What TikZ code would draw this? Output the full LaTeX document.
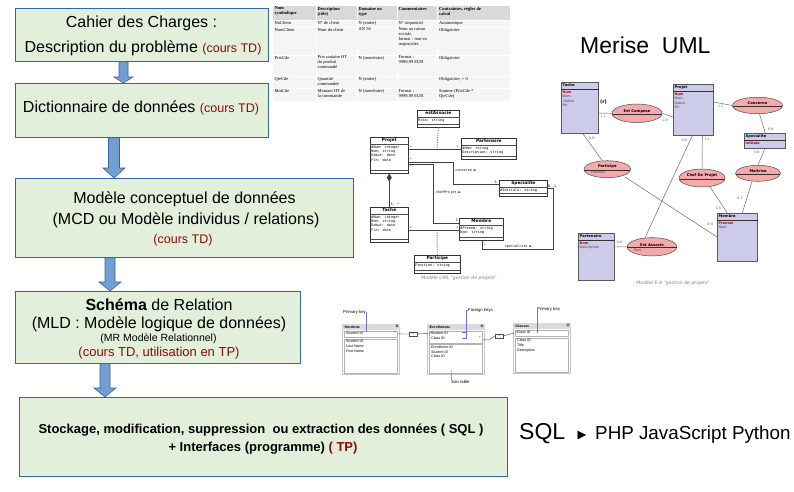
\documentclass[tikz,border=0pt]{standalone}
\usepackage{fontspec}
\setmainfont{Liberation Sans}
\newfontfamily\serifx{Liberation Serif}
\newfontfamily\monox{DejaVu Sans Mono}
\newfontfamily\djv{DejaVu Sans}
\usetikzlibrary{calc,shapes.geometric,arrows.meta}

\definecolor{boxfill}{RGB}{226,239,218}
\definecolor{boxline}{RGB}{52,101,164}
\definecolor{arrfill}{RGB}{114,159,207}
\definecolor{tdred}{RGB}{140,10,10}
\definecolor{keyred}{RGB}{180,0,0}
\definecolor{entfill}{RGB}{204,204,234}
\definecolor{relfill}{RGB}{244,170,170}
\definecolor{keyblue}{RGB}{110,110,235}

\newcommand{\tdnote}[1]{{\color{tdred}\fontsize{12.5}{14}\selectfont #1}}

\newcommand{\erent}[7]{%
  \node[erentity, minimum width=#4pt, minimum height=#5pt] (#1) at (#2,#3) {};
  \node[ertitle] (#1t) at ($(#1.north west)+(1.5,1.3)$) {#6};
  \draw[black!80, line width=0.9pt] ($(#1.north west)+(0,7.6)$) -- ($(#1.north east)+(0,7.6)$);
  \node[erattr] (#1a) at ($(#1.north west)+(1.5,8.6)$) {#7};
}
\newcommand{\errel}[7]{%
  \node[errel, minimum width=#4pt, minimum height=#5pt] (#1) at (#2,#3) {};
  \draw[black!80, line width=0.7pt] ($(#1.west)+(0.4,1)$) -- ($(#1.east)+(-0.4,1)$);
  \node[ertitle, anchor=south] (#1t) at ($(#1.center)+(0,-0.3)$) {#6};
  \node[erattr] (#1a) at ($(#1.west)+(7,2)$) {#7};
}
\newcommand{\umlcls}[7]{%
  \node[umlbox, minimum width=#4pt, minimum height=#5pt] (#1) at (#2,#3) {};
  \node[umltitle] (#1t) at ($(#1.north)+(0,1.2)$) {#6};
  \draw[umlsep] ($(#1.north west)+(0,7.5)$) -- ($(#1.north east)+(0,7.5)$);
  \node[umlattr] (#1a) at ($(#1.north west)+(1.2,8.5)$) {#7};
  \draw[umlsep] ($(#1.south west)+(0,-3.5)$) -- ($(#1.south east)+(0,-3.5)$);
}
\newcommand{\dcell}[4]{\node[dtxt] (#1) at (#2,#3) {#4};}

\begin{document}
\begin{tikzpicture}[x=1pt,y=-1pt,
  stepbox/.style={draw=boxline, fill=boxfill, line width=0.9pt, inner sep=0pt, anchor=north west},
  bigtxt/.style={anchor=base, inner sep=0pt, font=\fontsize{16}{19}\selectfont},
  arrstyle/.style={fill=arrfill, draw=boxline, line width=0.6pt},
  blockarrow/.style n args={3}{to path={let \p1=(\tikztostart), \p2=(\tikztotarget) in
     (\x1-#1pt,\y1) -- (\x1+#1pt,\y1) -- (\x1+#1pt,\y2+#3pt) -- (\x1+#2pt,\y2+#3pt) -- (\x1,\y2)
     -- (\x1-#2pt,\y2+#3pt) -- (\x1-#1pt,\y2+#3pt) -- cycle}},
  erentity/.style={draw=gray!70!black, fill=entfill, line width=0.6pt, inner sep=0pt, anchor=north west},
  ertitle/.style={font=\djv\bfseries\fontsize{3.7}{4.2}\selectfont, inner sep=0pt, anchor=north west},
  erattr/.style={font=\djv\fontsize{3.4}{4.4}\selectfont, text=black!75, inner sep=0pt, anchor=north west, align=left},
  errel/.style={ellipse, draw=gray!60!black, fill=relfill, line width=0.5pt, inner sep=0pt},
  erline/.style={draw=gray!75!black, line width=0.45pt},
  card/.style={font=\djv\fontsize{3.3}{4}\selectfont, text=black!60, inner sep=0pt},
  umlbox/.style={draw=black!80, fill=white, line width=0.6pt, inner sep=0pt, anchor=north west},
  umltitle/.style={font=\djv\bfseries\fontsize{4.3}{5}\selectfont, inner sep=0pt, anchor=north},
  umlattr/.style={font=\monox\fontsize{3.5}{4.3}\selectfont, inner sep=0pt, anchor=north west, align=left},
  umlsep/.style={draw=black!70, line width=0.4pt},
  umlline/.style={draw=black!75, line width=0.6pt},
  umldash/.style={draw=black!55, line width=0.9pt, dash pattern=on 1.2pt off 1.2pt},
  umllbl/.style={font=\monox\fontsize{3.4}{4}\selectfont, inner sep=0pt},
  rtframe/.style={draw=gray!45, line width=1.3pt, fill=white, inner sep=0pt, anchor=north west},
  rtbox/.style={draw=gray!60, line width=0.4pt, fill=white, inner sep=0pt, anchor=north west},
  rttxt/.style={font=\fontsize{3.6}{4.7}\selectfont, inner sep=0pt, anchor=north west, align=left},
  rtnote/.style={font=\fontsize{4.3}{5}\selectfont, inner sep=0pt},
  rtline/.style={draw=black!70, line width=0.45pt},
  keyline/.style={draw=keyblue, line width=0.5pt},
  dtxt/.style={font=\serifx\fontsize{4.5}{4.9}\selectfont, inner sep=0pt, anchor=north west, align=left},
  capt/.style={font=\djv\itshape\fontsize{4.6}{5}\selectfont, text=black!50, inner sep=0pt}
]
\useasboundingbox (0,0) rectangle (794,491);
\fill[white] (0,0) rectangle (794,491);

% ---------------- left flow boxes ----------------
\node[stepbox, minimum width=253pt, minimum height=53pt] (b1) at (15,8) {};
\node[stepbox, minimum width=253pt, minimum height=54pt] (b2) at (15,83) {};
\node[stepbox, minimum width=338pt, minimum height=79pt] (b3) at (15,178) {};
\node[stepbox, minimum width=285pt, minimum height=72pt] (b4) at (15,291) {};
\node[stepbox, minimum width=488pt, minimum height=79pt] (b5) at (19,397) {};

\node[bigtxt] (t1a) at (141.5,27.3) {Cahier des Charges :};
\node[bigtxt] (t1b) at (143,52.5) {Description du problème \tdnote{(cours TD)}};
\node[bigtxt] (t2) at (141,112.3) {Dictionnaire de données \tdnote{(cours TD)}};
\node[bigtxt] (t3a) at (184.5,203.3) {Modèle conceptuel de données};
\node[bigtxt] (t3b) at (186,224.3) {(MCD ou Modèle individus / relations)};
\node[bigtxt] (t3c) at (183,243.3) {\tdnote{(cours TD)}};
\node[bigtxt] (t4a) at (159,310) {\textbf{Schéma} de Relation};
\node[bigtxt] (t4b) at (159,328.3) {(MLD : Modèle logique de données)};
\node[bigtxt, font=\fontsize{10.5}{12}\selectfont] (t4c) at (158.5,341) {(MR Modèle Relationnel)};
\node[bigtxt, font=\fontsize{13}{15}\selectfont, text=tdred] (t4d) at (159,356) {(cours TD, utilisation en TP)};
\node[bigtxt, font=\bfseries\fontsize{13}{15}\selectfont] (t5a) at (261,433) {Stockage, modification, suppression\ \ ou extraction des données ( SQL )};
\node[bigtxt, font=\bfseries\fontsize{13}{15}\selectfont] (t5b) at (263,451) {+ Interfaces (programme) {\color{tdred}( TP)}};

% block arrows
\coordinate (a1s) at ($(b1.south west)+(108.5,0)$);
\coordinate (a1e) at ($(b2.north west)+(108.5,0)$);
\coordinate (a2s) at ($(b2.south west)+(99,0)$);
\coordinate (a2e) at ($(b3.north west)+(99,0)$);
\coordinate (a3s) at ($(b3.south west)+(95,0)$);
\coordinate (a3e) at ($(b4.north west)+(95,0)$);
\coordinate (a4s) at ($(b4.south west)+(90,0)$);
\coordinate (a4e) at ($(b5.north west)+(86,0)$);
\draw[arrstyle] (a1s) to[blockarrow={4.5}{9.5}{6}] (a1e);
\draw[arrstyle] (a2s) to[blockarrow={5.5}{11}{10}] (a2e);
\draw[arrstyle] (a3s) to[blockarrow={5}{11}{9}] (a3e);
\draw[arrstyle] (a4s) to[blockarrow={5}{11}{9}] (a4e);

% right texts
\node[anchor=base west, inner sep=0pt, font=\fontsize{23}{26}\selectfont] (merise) at (580,53) {Merise\ \ UML};
\node[anchor=base west, inner sep=0pt, font=\fontsize{23}{26}\selectfont] (sql) at (519,439) {SQL};
\node[anchor=base west, inner sep=0pt, font=\djv\fontsize{11.5}{12}\selectfont] (tri) at (577.5,438) {▶};
\node[anchor=base west, inner sep=0pt, font=\fontsize{18.8}{20}\selectfont] (langs) at (595,439) {PHP JavaScript Python};

% ---------------- data dictionary table ----------------
\fill[gray!8] (273,6) rectangle (510,101);
\fill[gray!30] (273,6) rectangle (510,20);
\foreach \yy in {20,27,55,76.5,88.5} \draw[white, line width=0.7pt] (273,\yy) -- (510,\yy);
\foreach \xx in {316,357,397,437.5} \draw[white, line width=0.7pt] (\xx,6) -- (\xx,101);
\dcell{dh1}{274.5}{6.8}{\bfseries Nom\\\bfseries symbolique}
\dcell{dh2}{317.5}{6.8}{\bfseries Description\\\bfseries (rôle)}
\dcell{dh3}{358.5}{6.8}{\bfseries Domaine ou\\\bfseries type}
\dcell{dh4}{398.5}{6.8}{\bfseries Commentaires}
\dcell{dh5}{439}{6.8}{\bfseries Contraintes, règles de\\\bfseries calcul}
\dcell{d11}{274.5}{21.3}{NoClient}
\dcell{d12}{317.5}{21.3}{N° de client}
\dcell{d13}{358.5}{21.3}{N (entier)}
\dcell{d14}{398.5}{21.3}{N° séquentiel}
\dcell{d15}{439}{21.3}{Automatique}
\dcell{d21}{274.5}{27.8}{NomClient}
\dcell{d22}{317.5}{27.8}{Nom du client}
\dcell{d23}{358.5}{27.8}{AN 50}
\dcell{d24}{398.5}{27.8}{Nom ou raison\\sociale,\\format : tout en\\majuscules}
\dcell{d25}{439}{27.8}{Obligatoire}
\dcell{d31}{274.5}{55.8}{PrixCde}
\dcell{d32}{317.5}{55.8}{Prix unitaire HT\\du produit\\commandé}
\dcell{d33}{358.5}{55.8}{N (monétaire)}
\dcell{d34}{398.5}{55.8}{Format :\\9999,99 EUR}
\dcell{d35}{439}{55.8}{Obligatoire}
\dcell{d41}{274.5}{77.3}{QteCde}
\dcell{d42}{317.5}{77.3}{Quantité\\commandée}
\dcell{d43}{358.5}{77.3}{N (entier)}
\dcell{d45}{439}{77.3}{Obligatoire, > 0}
\dcell{d51}{274.5}{89.2}{MntCde}
\dcell{d52}{317.5}{89.2}{Montant HT de\\la commande}
\dcell{d53}{358.5}{89.2}{N (monétaire)}
\dcell{d54}{398.5}{89.2}{Format :\\9999,99 EUR}
\dcell{d55}{439}{89.2}{Somme (PrixCde *\\QteCde)}

% ---------------- UML class diagram ----------------
\umlcls{u_assoc}{417}{110}{42}{17}{estAssocie}{Role: string}
\umlcls{u_projet}{370}{137}{38}{36}{Projet}{\#Num: integer\\ Nom: string\\ Debut: date\\ Fin: date}
\umlcls{u_part}{461}{138}{55}{21}{Partenaire}{\#Nom: string\\ Description: string}
\umlcls{u_spec}{499}{180}{48}{16}{Specialite}{\#Intitule: string}
\umlcls{u_tache}{370}{207}{38}{35}{Tache}{\#Num: integer\\ Nom: string\\ Debut: date\\ Fin: date}
\umlcls{u_membre}{459}{218}{44}{22}{Membre}{\#Prenom: string\\ Nom: string}
\umlcls{u_partic}{414}{255}{46}{18}{Participe}{Fonction: string}

\coordinate (j1) at (437,149);
\coordinate (j2) at (437,230);
\draw[umlline] ($(u_projet.north east)+(0,12)$) -- ($(u_part.north west)+(0,11)$);
\draw[umldash] (u_assoc.south) -- (j1);
\draw[umlline] ($(u_projet.north east)+(0,25)$) -- ++(45,0) |- ($(u_spec.north west)+(0,4)$);
\draw[umlline] ($(u_projet.north east)+(0,27.5)$) -- ++(25,0) |- ($(u_membre.north west)+(0,5)$);
\draw[umlline, -{Diamond[length=8pt,width=5pt]}] (u_tache.north) -- (u_projet.south);
\draw[umlline] ($(u_tache.north east)+(0,23)$) -- ($(u_membre.north west)+(0,12)$);
\draw[umldash] (u_partic.north) -- (j2);
\draw[umlline] ($(u_membre.south)+(1,0)$) -- ++(0,9) -| ($(u_spec.north east)+(6,8)$) -- ($(u_spec.north east)+(0,8)$);

\node[umllbl] (l1) at (411,147) {*};
\node[umllbl] (l2) at (457.5,147) {*};
\node[umllbl] (l3) at (411,159.5) {*};
\node[umllbl] (l4) at (411,166.5) {*};
\node[umllbl] (l5) at (466,170.7) {concerne {\djv ►}};
\node[umllbl] (l6) at (496,182) {1};
\node[umllbl] (l7) at (448.5,192.7) {chefProjet {\djv ►}};
\node[umllbl] (l8) at (457,220.7) {1};
\node[umllbl] (l9) at (395,204.5) {1..*};
\node[umllbl] (l10) at (411,228.5) {*};
\node[umllbl] (l11) at (457.3,228.5) {*};
\node[umllbl] (l12) at (485,245) {*};
\node[umllbl] (l13) at (518.5,246.5) {specialiste {\djv ►}};
\node[umllbl] (l14) at (552,186) {0..1};
\node[capt] (ucap) at (459,278.5) {Modèle UML "gestion de projets"};

% ---------------- Merise E-A diagram ----------------
\erent{e_tache}{561}{82}{37}{51}{Tache}{{\color{keyred}\bfseries Num}\\Nom\\\hspace*{1pt}Debut\\Fin}
\erent{e_projet}{673}{84}{40}{51}{Projet}{{\color{keyred}\bfseries Num}\\Nom\\Debut\\Fin}
\erent{e_spec}{744}{133}{41}{15}{Specialite}{{\color{keyred}\bfseries Intitule}}
\erent{e_membre}{717}{213}{40}{48}{Membre}{{\color{keyred}\bfseries Prenom}\\Nom}
\erent{e_part}{578}{233}{36}{47}{Partenaire}{{\color{keyred}\bfseries Nom}\\Description}

\errel{r_comp}{637}{113.3}{50}{18.5}{Est Compose}{}
\errel{r_conc}{757.5}{105.5}{50}{16.5}{Concerne}{}
\errel{r_mait}{758}{173.3}{45}{16}{Maitrise}{}
\errel{r_chef}{702}{178}{46}{18}{Chef De Projet}{}
\errel{r_partic}{607.3}{169.2}{46.5}{17}{Participe}{Fonction}
\errel{r_assoc}{652}{246.8}{49.5}{18.3}{Est Associe}{Role}

\draw[erline] ($(e_tache.north east)+(0,31)$) -- (r_comp.west);
\draw[erline] (r_comp.east) -- ($(e_projet.north west)+(0,33)$);
\draw[erline] ($(e_projet.north east)+(0,18)$) -- (r_conc.west);
\draw[erline] ($(r_conc.south)+(2,0)$) -- ($(e_spec.north)+(0.5,0)$);
\draw[erline] (e_spec.south) -- (r_mait.north);
\draw[erline] ($(r_mait.south)+(-6,0)$) -- ($(e_membre.north)+(5,0)$);
\draw[erline] ($(e_projet.south)+(9,0)$) -- (r_chef.north);
\draw[erline] ($(r_chef.south)+(8,-0.5)$) -- ($(e_membre.north)+(-10,0)$);
\draw[erline] ($(e_projet.south)+(-1,0)$) -- ($(r_assoc.north)+(-7,0.3)$);
\draw[erline] ($(e_part.north east)+(0,14)$) -- (r_assoc.west);
\draw[erline] ($(e_tache.south)+(3,0)$) -- ($(r_partic.north)+(-5,0.1)$);
\draw[erline] ($(r_partic.center)+(18,8)$) -- ($(e_membre.north west)+(0,24)$);

\node[card] (c1) at (603,116) {1,1};
\node[font=\djv\bfseries\fontsize{4.8}{5}\selectfont, inner sep=0pt] (c0) at (603.5,102) {(r)};
\node[card] (c2) at (665,120.7) {1,N};
\node[card] (c3) at (720.7,106.7) {1,1};
\node[card] (c4) at (770.7,129) {0,N};
\node[card] (c5) at (756.7,152.7) {0,N};
\node[card] (c6) at (740,198.3) {0,1};
\node[card] (c7) at (718.3,208.3) {1,N};
\node[card] (c8) at (710,224) {0,N};
\node[card] (c9) at (684.3,140) {0,N};
\node[card] (c10) at (707.3,139) {1,1};
\node[card] (c11) at (591.7,138.3) {0,N};
\node[card] (c12) at (619.3,242.7) {0,N};
\node[capt] (ecap) at (673,283) {Modèle E-A "gestion de projets"};

% ---------------- relational schema ----------------
\node[rtframe, minimum width=57pt, minimum height=50pt] (r_stud) at (342,324) {};
\node[rtframe, minimum width=57pt, minimum height=50pt] (r_enr) at (427,324) {};
\node[rtframe, minimum width=57pt, minimum height=50pt] (r_cls) at (513,323) {};
\fill[gray!28] (r_stud.north west) rectangle ($(r_stud.north east)+(0,5.5)$);
\fill[gray!28] (r_enr.north west) rectangle ($(r_enr.north east)+(0,5.5)$);
\fill[gray!28] (r_cls.north west) rectangle ($(r_cls.north east)+(0,5.5)$);
\node[rttxt, font=\bfseries\fontsize{3.5}{4}\selectfont, anchor=west] (s_t) at ($(r_stud.north west)+(1.5,2.8)$) {•Students};
\node[rttxt, font=\bfseries\fontsize{3.5}{4}\selectfont, anchor=west] (e_t) at ($(r_enr.north west)+(1.5,2.8)$) {•Enrollments};
\node[rttxt, font=\bfseries\fontsize{3.5}{4}\selectfont, anchor=west] (k_t) at ($(r_cls.north west)+(1.5,2.8)$) {•Classes};
\node[rttxt, font=\djv\fontsize{3.5}{4}\selectfont, anchor=east] (s_x) at ($(r_stud.north east)+(-1.5,2.8)$) {⊠};
\node[rttxt, font=\djv\fontsize{3.5}{4}\selectfont, anchor=east] (e_x) at ($(r_enr.north east)+(-1.5,2.8)$) {⊠};
\node[rttxt, font=\djv\fontsize{3.5}{4}\selectfont, anchor=east] (k_x) at ($(r_cls.north east)+(-1.5,2.8)$) {⊠};

\node[rtbox, minimum width=53pt, minimum height=6.5pt] (s_k) at ($(r_stud.north west)+(2,6.5)$) {};
\node[rtbox, minimum width=53pt, minimum height=12pt] (e_k) at ($(r_enr.north west)+(2,6.5)$) {};
\node[rtbox, minimum width=53pt, minimum height=6.5pt] (k_k) at ($(r_cls.north west)+(2,6.5)$) {};
\node[rtbox, minimum width=53pt, minimum height=34pt] (s_b) at ($(r_stud.north west)+(2,14.5)$) {};
\node[rtbox, minimum width=53pt, minimum height=28.5pt] (e_b) at ($(r_enr.north west)+(2,20)$) {};
\node[rtbox, minimum width=53pt, minimum height=34pt] (k_b) at ($(r_cls.north west)+(2,14.5)$) {};

\node[rttxt] (s_k1) at ($(s_k.north west)+(2,1.2)$) {Student ID};
\node[rttxt, anchor=north east] (s_k2) at ($(s_k.north east)+(-1.5,1.2)$) {•};
\node[rttxt] (e_k1) at ($(e_k.north west)+(0.5,1.2)$) {•Student ID\\\hspace*{1.5pt}Class ID};
\node[rttxt, anchor=north east] (e_k2) at ($(e_k.north east)+(-1.5,6)$) {•};
\node[rttxt] (k_k1) at ($(k_k.north west)+(0.5,1.2)$) {•Class ID};
\node[rttxt] (s_b1) at ($(s_b.north west)+(2,1.5)$) {Student ID\\Last Name\\First Name};
\node[rttxt, font=\itshape\fontsize{3.6}{4.7}\selectfont] (e_b1) at ($(e_b.north west)+(2,1.5)$) {Enrollment ID\\Student ID\\Class ID};
\node[rttxt] (k_b1) at ($(k_b.north west)+(2,1.5)$) {Class ID\\Title\\Description};

\node[draw=black!70, fill=white, line width=0.4pt, inner sep=0.5pt, minimum width=8pt, minimum height=4.5pt, font=\fontsize{3.5}{4}\selectfont] (eq1) at (413,334) {=};
\node[draw=black!70, fill=white, line width=0.4pt, inner sep=0.5pt, minimum width=8pt, minimum height=4.5pt, font=\fontsize{3.5}{4}\selectfont] (eq2) at (499,336) {=};
\draw[rtline] ($(s_k.east)+(0.8,0)$) -- (eq1.west);
\draw[rtline] (eq1.east) -- ($(e_k.north west)+(-0.8,3)$);
\draw[rtline] ($(e_k.south east)+(0.8,-3)$) -- ++(6,0) -- (eq2.west);
\draw[rtline] (eq2.east) -- ($(k_k.west)+(-0.8,0)$);

\node[rtnote, anchor=west] (pk1) at (343,312) {Primary key};
\node[rtnote, anchor=west] (fk) at (468,310) {Foreign keys};
\node[rtnote, anchor=west] (pk2) at (537,309) {Primary key};
\node[rtnote, anchor=north west] (jt) at (451,380.5) {Join table};
\coordinate (pk1e) at (375,332);
\coordinate (fkb) at (466.7,338.3);
\coordinate (fkm) at (466.7,332.3);
\coordinate (pk2e) at (537,332.5);
\draw[keyline] (pk1.east) -- (pk1.east |- pk1e);
\draw[keyline] (fk.west) -| (fkb) -- ++(-5,0);
\draw[keyline] (fkm) -- ++(-5,0);
\draw[keyline] (pk2.west) -- (pk2.west |- pk2e);
\draw[keyline] ($(e_b.south west)+(22,-3)$) -- ($(jt.north west)+(0.5,0)$);
\end{tikzpicture}
\end{document}
